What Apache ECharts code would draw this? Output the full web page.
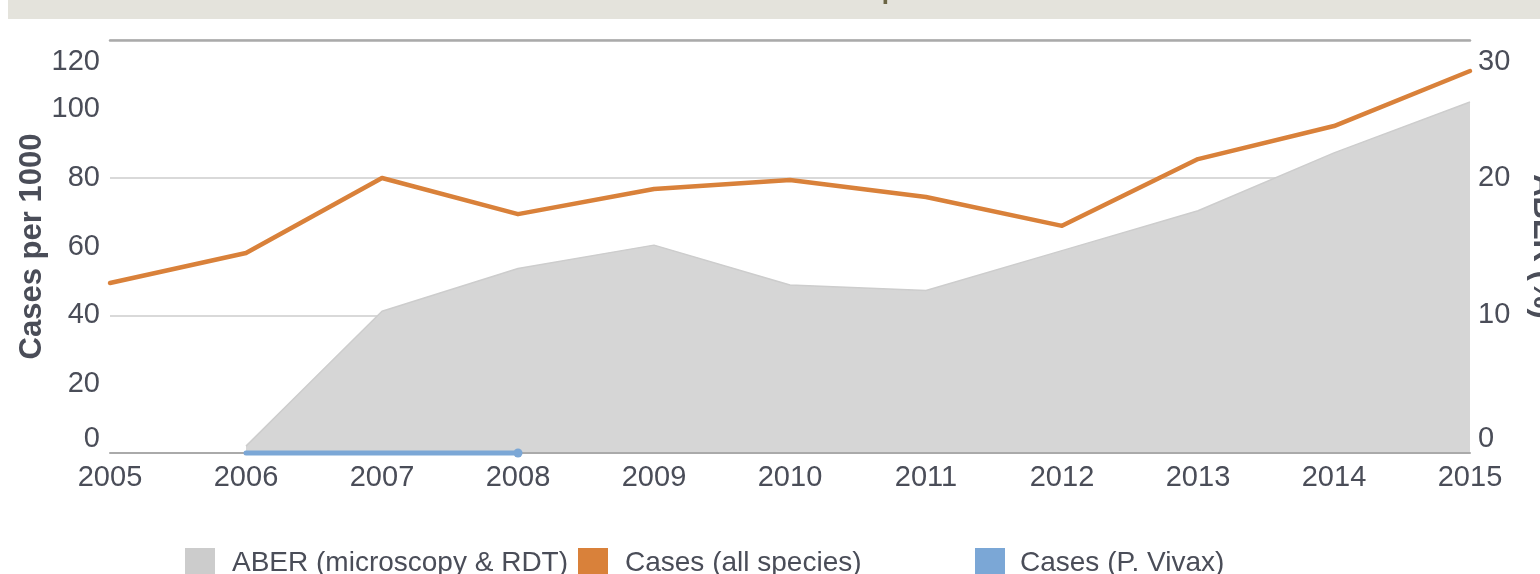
<!DOCTYPE html>
<html>
<head>
<meta charset="utf-8">
<script src="https://cdn.jsdelivr.net/npm/echarts@6/dist/echarts.min.js"></script>
<style>
html,body{margin:0;padding:0;background:#fff;}
#c{width:1540px;height:574px;}
</style>
</head>
<body>
<div id="c"></div>
<script>
const years = ['2005','2006','2007','2008','2009','2010','2011','2012','2013','2014','2015'];
const aber = [null, 0.5, 10.3, 13.4, 15.1, 12.2, 11.8, 14.7, 17.6, 21.8, 25.5];
const casesAll = [49.4, 58.1, 79.9, 69.4, 76.7, 79.3, 74.4, 66.0, 85.4, 95.0, 111.0];
const casesVivax = [null, 0, 0, 0, null, null, null, null, null, null, null];
const leftTicks = {min: 0, max: 120, interval: 20};
const rightTicks = {min: 0, max: 30, interval: 10};

const textColor = '#4a4d58';
const font = 'Liberation Sans, Arial, Helvetica, sans-serif';

const chart = echarts.init(document.getElementById('c'), null, {renderer: 'canvas'});

const vivaxData = casesVivax.map((v, i) => (i === 3 ? {value: v, symbol: 'circle', symbolSize: 9} : v));

function labelFmt(max) {
  return function (v) { return v === max ? '{top|' + v + '}' : String(v); };
}
const richTop = {top: {fontSize: 29, color: textColor, fontFamily: font, padding: [7, 0, 0, 0]}};

chart.setOption({
  animation: false,
  textStyle: {fontFamily: font},
  graphic: [
    {type: 'rect', shape: {x: 8, y: 0, width: 1532, height: 19}, style: {fill: '#e4e3dc'}, z: 0},
    {type: 'text', x: 777, y: 5, style: {text: 'Confirmed malaria cases per 1000', fontSize: 26, fontWeight: 'bold', fontFamily: font, fill: '#6b6544', align: 'center', verticalAlign: 'bottom'}, z: 1}
  ],
  legend: [
    {left: 185, top: 548, padding: 0, itemWidth: 30, itemHeight: 30, icon: 'rect', data: ['ABER (microscopy & RDT)'], textStyle: {fontSize: 28, color: textColor, fontFamily: font, padding: [0, 0, 0, 12]}},
    {left: 578, top: 548, padding: 0, itemWidth: 30, itemHeight: 30, icon: 'rect', data: ['Cases (all species)'], textStyle: {fontSize: 28, color: textColor, fontFamily: font, padding: [0, 0, 0, 12]}},
    {left: 975, top: 548, padding: 0, itemWidth: 30, itemHeight: 30, icon: 'rect', data: ['Cases (P. Vivax)'], textStyle: {fontSize: 28, color: textColor, fontFamily: font, padding: [0, 0, 0, 10]}}
  ],
  grid: {left: 110, right: 70, top: 40, bottom: 121, containLabel: false, outerBoundsMode: 'none'},
  xAxis: [
    {
      type: 'category', data: years, boundaryGap: false, z: 3,
      axisLine: {show: true, onZero: false, lineStyle: {color: '#aaaaaa', width: 2}},
      axisTick: {show: false},
      axisLabel: {fontSize: 29, color: textColor, margin: 10, fontFamily: font},
      splitLine: {show: false}
    },
    {
      type: 'category', data: years, boundaryGap: false, position: 'top', z: 3,
      axisLine: {show: true, onZero: false, lineStyle: {color: '#aaaaaa', width: 2.5}},
      axisTick: {show: false}, axisLabel: {show: false}, splitLine: {show: false}
    }
  ],
  yAxis: [
    {
      type: 'value', position: 'left', min: leftTicks.min, max: leftTicks.max, interval: leftTicks.interval,
      name: 'Cases per 1000', nameLocation: 'middle', nameGap: 62, nameMoveOverlap: false,
      nameTextStyle: {fontSize: 31, fontWeight: 'bold', color: textColor, fontFamily: font},
      axisLine: {show: false}, axisTick: {show: false}, splitLine: {show: false},
      axisLabel: {fontSize: 29, color: textColor, margin: 10, fontFamily: font, verticalAlignMaxLabel: 'top', verticalAlignMinLabel: 'bottom', formatter: labelFmt(leftTicks.max), rich: richTop}
    },
    {
      type: 'value', position: 'right', min: rightTicks.min, max: rightTicks.max, interval: rightTicks.interval,
      name: 'ABER (%)', nameLocation: 'middle', nameGap: 57, nameRotate: -90, nameMoveOverlap: false,
      nameTextStyle: {fontSize: 31, fontWeight: 'bold', color: textColor, fontFamily: font},
      axisLine: {show: false}, axisTick: {show: false},
      splitLine: {show: true, lineStyle: {color: '#d9d9d9', width: 2}},
      axisLabel: {fontSize: 29, color: textColor, margin: 8, fontFamily: font, verticalAlignMaxLabel: 'top', verticalAlignMinLabel: 'bottom', formatter: labelFmt(rightTicks.max), rich: richTop}
    }
  ],
  series: [
    {
      name: 'ABER (microscopy & RDT)', type: 'line', yAxisIndex: 1, data: aber,
      symbol: 'none', color: '#cccccc',
      lineStyle: {color: '#cdcdcd', width: 1.5},
      areaStyle: {color: '#d6d6d6', opacity: 1},
      z: 2
    },
    {
      name: 'Cases (all species)', type: 'line', yAxisIndex: 0, data: casesAll,
      symbol: 'none', color: '#d9813a',
      lineStyle: {color: '#d9813a', width: 4.5, cap: 'round', join: 'round'},
      z: 5
    },
    {
      name: 'Cases (P. Vivax)', type: 'line', yAxisIndex: 0, data: vivaxData,
      symbol: 'none', color: '#7ba7d6', clip: false,
      itemStyle: {color: '#7ba7d6'},
      lineStyle: {color: '#7ba7d6', width: 5, cap: 'round'},
      z: 6
    }
  ]
});
</script>
</body>
</html>
